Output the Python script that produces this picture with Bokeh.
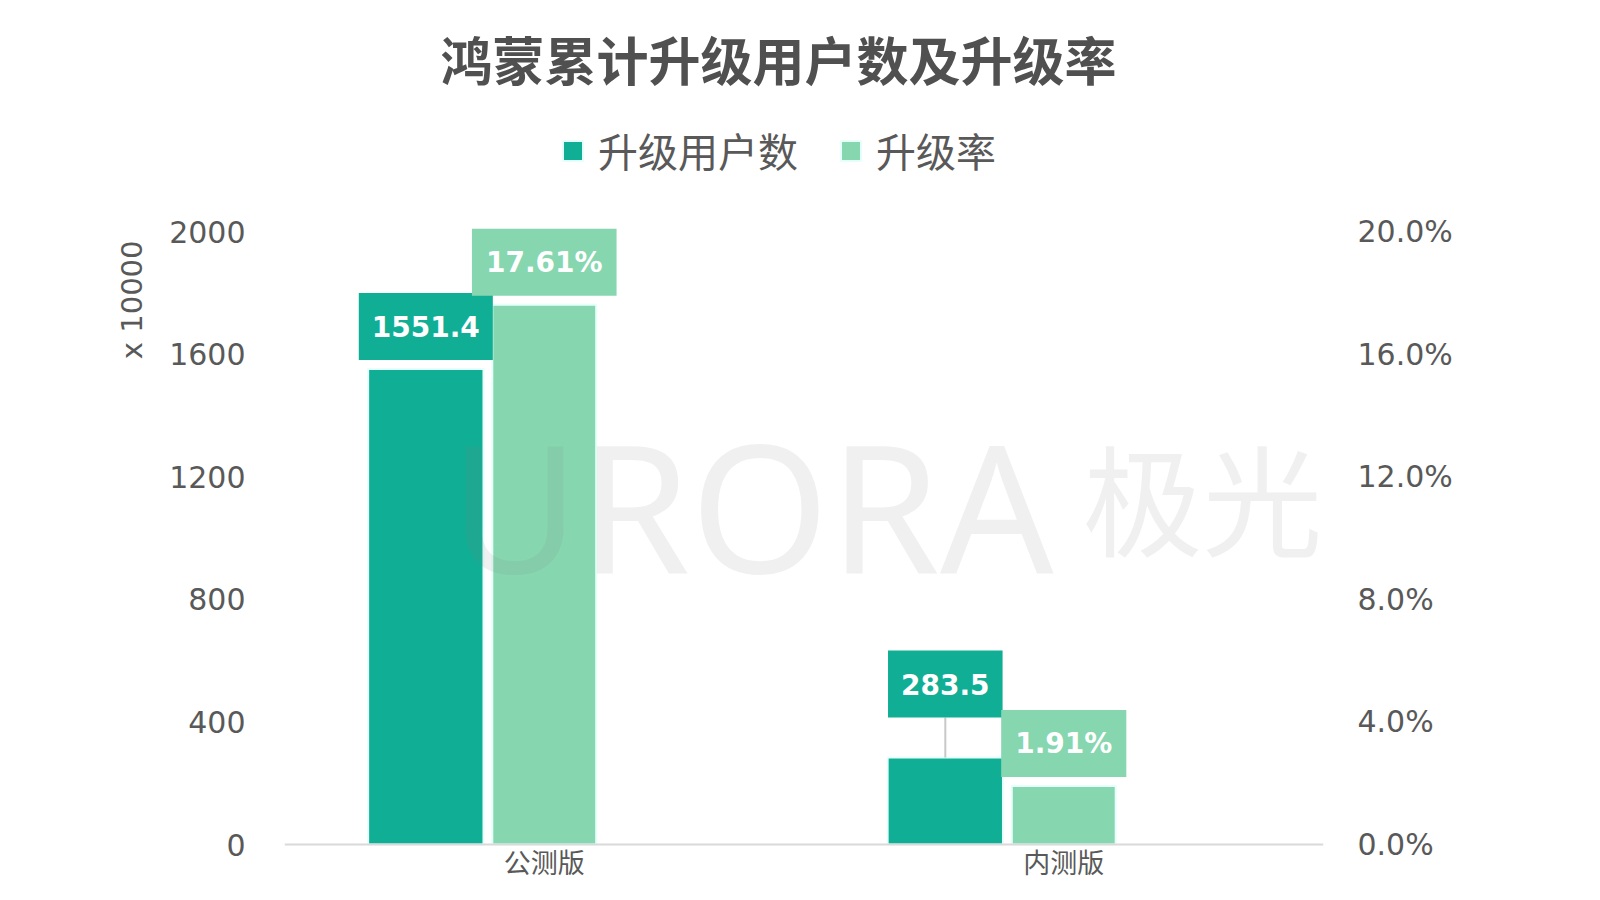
import numpy as np
from bokeh.plotting import figure
from bokeh.models import (Range1d, LinearAxis, FixedTicker, NumeralTickFormatter, Label,
                          Span, Legend, LegendItem, ColumnDataSource, Title)
from bokeh.embed import file_html
from bokeh.resources import INLINE

# ---- data ----
categories = ["公测版", "内测版"]
users = [1551.4, 283.5]          # 升级用户数 (x 10000)
rates = [0.1761, 0.0191]          # 升级率
user_labels = ["1551.4", "283.5"]
rate_labels = ["17.61%", "1.91%"]
left_ticks = [0, 400, 800, 1200, 1600, 2000]
right_ticks = [0.0, 0.04, 0.08, 0.12, 0.16, 0.20]

DARK = "#10ae94"
LIGHT = "#86d6b0"
TXT = "#595959"
FONT = "Noto Sans CJK SC"
NUMFONT = "DejaVu Sans"

# ---- layout (pixels) ----
W, H = 1584, 884
FRAME_L, FRAME_R = 284, 1323        # plot area left/right
ZERO_Y, TOP_Y = 844, 231            # pixel rows of 0 and of 2000
PPU = (ZERO_Y - TOP_Y) / 2000.0     # pixels per unit
y0 = -(H - ZERO_Y) / PPU
y1 = 2000 + TOP_Y / PPU
PCT = 0.2 / 2000.0

p = figure(width=W, height=H, output_backend="svg", toolbar_location=None,
           x_range=Range1d(0, 2), y_range=Range1d(y0, y1),
           min_border_left=FRAME_L, min_border_right=W - FRAME_R, min_border_top=0, min_border_bottom=0)
p.extra_y_ranges = {"pct": Range1d(y0 * PCT, y1 * PCT)}
p.outline_line_color = None
p.grid.visible = False
p.xaxis.visible = False
p.border_fill_color = "white"


def sx(x):
    return x - FRAME_L


def sy(y):
    return H - y


cat_pos = np.array([0.5, 1.5])
dark_x = cat_pos - 0.228
light_x = cat_pos + 0.0

src_u = ColumnDataSource(dict(x=dark_x, top=users))
src_r = ColumnDataSource(dict(x=light_x, top=rates))
r1 = p.vbar(x="x", top="top", bottom=0, width=0.222, source=src_u, fill_color=DARK,
            line_color="#e6fffb", line_width=2)
r2 = p.vbar(x="x", top="top", bottom=0, width=0.2, source=src_r, fill_color=LIGHT,
            line_color="#e6fffb", line_width=2, y_range_name="pct")

# axes
ya = p.yaxis[0]
ya.ticker = FixedTicker(ticks=left_ticks)
ya.axis_line_color = None
ya.major_tick_line_color = None
ya.minor_tick_line_color = None
ya.major_label_standoff = 33
ya.major_label_text_font = NUMFONT
ya.major_label_text_font_size = "30px"
ya.major_label_text_color = TXT

ra = LinearAxis(y_range_name="pct", ticker=FixedTicker(ticks=right_ticks),
                formatter=NumeralTickFormatter(format="0.0%"))
ra.axis_line_color = None
ra.major_tick_line_color = None
ra.minor_tick_line_color = None
ra.major_label_standoff = 28
ra.major_label_text_font = NUMFONT
ra.major_label_text_font_size = "30px"
ra.major_label_text_color = TXT
p.add_layout(ra, "right")

# unit label on the left
p.add_layout(Title(text="x 10000", align="right", offset=240, standoff=36,
                   text_font=NUMFONT, text_font_size="29px", text_font_style="normal",
                   text_color=TXT), "left")

p.add_layout(Span(location=0, dimension="width", line_color="#d9d9d9", line_width=2))

# category labels
for cx, c in zip(cat_pos, categories):
    p.add_layout(Label(x=cx, y=0, y_offset=-36, text=c, text_align="center", text_baseline="bottom",
                       text_font=FONT, text_font_size="27px", text_color=TXT))

# watermark
p.add_layout(Label(x=sx(449), y=sy(503), x_units="screen", y_units="screen", text="URORA",
                   text_font="Noto Sans", text_font_size="178px", text_color="#808080", text_alpha=0.12,
                   text_baseline="middle", text_align="left"))
p.add_layout(Label(x=sx(1082), y=sy(495), x_units="screen", y_units="screen", text="极光",
                   text_font=FONT, text_font_size="120px", text_color="#808080", text_alpha=0.12,
                   text_baseline="middle", text_align="left"))

# value labels
lifts = [9, 40]
pad_num = dict(left=13, right=13, top=23, bottom=23)
pad_pct = dict(left=14, right=14, top=17, bottom=17)
for i in range(2):
    lift = lifts[i]
    p.add_layout(Label(x=dark_x[i], y=users[i], y_offset=lift, text=user_labels[i],
                       text_align="center", text_baseline="bottom", text_font=NUMFONT,
                       text_font_style="bold", text_font_size="28px", text_color="white",
                       background_fill_color=DARK, padding=pad_num))
    if lift > 12:
        p.segment(x0=[dark_x[i]], y0=[users[i]], x1=[dark_x[i]], y1=[users[i] + lift / PPU],
                  line_color="#c8c8c8", line_width=2)
    p.add_layout(Label(x=light_x[i], y=rates[i], y_offset=9, y_range_name="pct", text=rate_labels[i],
                       text_align="center", text_baseline="bottom", text_font=NUMFONT,
                       text_font_style="bold", text_font_size="28px", text_color="white",
                       background_fill_color=LIGHT, padding=pad_pct))

# title
p.add_layout(Label(x=sx(778), y=sy(58), x_units="screen", y_units="screen",
                   text="鸿蒙累计升级用户数及升级率", text_align="center", text_baseline="middle",
                   text_font=FONT, text_font_style="bold", text_font_size="52px", text_color="#505050"))

# legend
legend = Legend(items=[LegendItem(label="升级用户数", renderers=[r1]),
                       LegendItem(label="升级率", renderers=[r2])],
                location=(sx(560), sy(151) - 28), orientation="horizontal",
                label_text_font=FONT, label_text_font_size="40px", label_text_color=TXT,
                glyph_width=25, glyph_height=25, label_standoff=13, spacing=40,
                padding=0, margin=0, border_line_color=None, background_fill_alpha=0)
p.add_layout(legend)

open("out.html", "w").write(file_html(p, INLINE))
